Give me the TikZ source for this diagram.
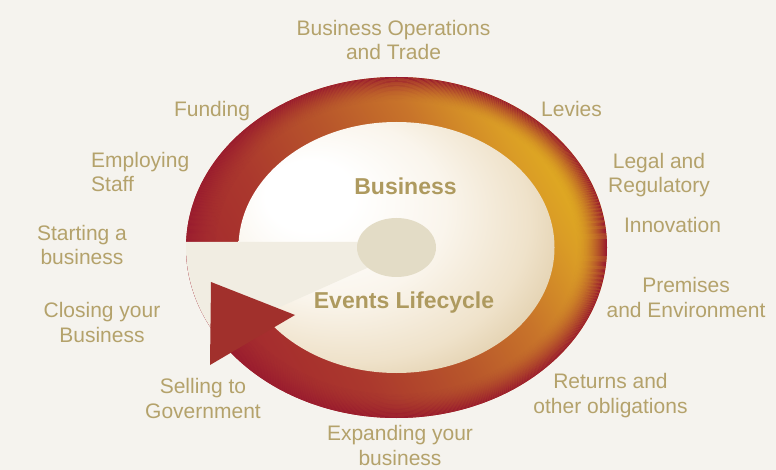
\documentclass[tikz,border=0pt]{standalone}
\usepackage{fontspec}
\setmainfont{Liberation Sans}

% palette
\definecolor{bgcol}{HTML}{F5F3EE}
\definecolor{labelcol}{HTML}{B4A26B}
\definecolor{titlecol}{HTML}{AE9A5F}
\definecolor{wedgecol}{HTML}{F1EDE2}
\definecolor{hubcol}{HTML}{E3DCC6}
\definecolor{arrowcol}{HTML}{A1302C}
\definecolor{ringred}{HTML}{9A1C2E}
\definecolor{ringA}{HTML}{A3282E}
\definecolor{ringB}{HTML}{AB382D}
\definecolor{ringC}{HTML}{B8562B}
\definecolor{ringD}{HTML}{C8742A}
\definecolor{ringE}{HTML}{DA9C26}
\definecolor{ringF}{HTML}{E3B41E}
\definecolor{ballA}{HTML}{FAF5EC}
\definecolor{ballB}{HTML}{EFE2CA}
\definecolor{ballC}{HTML}{DCC7A0}
\definecolor{ballD}{HTML}{C6AA7A}
\definecolor{ballE}{HTML}{AE915D}
\definecolor{ballF}{HTML}{9E824C}

% ring body: red at lower left, gold at upper right
\pgfdeclareverticalshading{ringbase}{100bp}{%
  color(0bp)=(ringA); color(25bp)=(ringA); color(38bp)=(ringB);
  color(50bp)=(ringC); color(60bp)=(ringD); color(69bp)=(ringE);
  color(76bp)=(ringF); color(100bp)=(ringF)}
% glossy centre disc, lit from the upper left
\pgfdeclareradialshading{ballshade}{\pgfpoint{-16bp}{12bp}}{%
  color(0bp)=(white); color(7bp)=(white); color(18bp)=(ballA);
  color(28bp)=(ballB); color(36bp)=(ballC); color(43bp)=(ballD);
  color(47.5bp)=(ballE); color(50bp)=(ballF)}

\begin{document}
\begin{tikzpicture}[x=1pt,y=-1pt,
  lbl/.style={font=\fontsize{21}{24.2}\selectfont, text=labelcol,
    align=center, anchor=base, inner sep=0pt},
  title/.style={font=\fontsize{23}{26}\selectfont\bfseries, text=titlecol,
    anchor=base, inner sep=0pt},
  outerell/.style={x radius=210.5pt, y radius=170.5pt},
  innerell/.style={x radius=158pt, y radius=125.5pt},
  hubell/.style={x radius=39.5pt, y radius=29.5pt}]
\useasboundingbox (0,0) rectangle (776,470);
\fill[bgcol] (0,0) rectangle (776,470);

\coordinate (c) at (396.5,247.5);

% ring
\shade[shading=ringbase, shading angle=-60] (c) ellipse [outerell];
% darkening towards the rim: thin concentric bands of red
\foreach \k in {0,...,29} {
  \pgfmathsetmacro\op{(1-\k/30)^1.8}
  \fill[ringred, opacity=\op, even odd rule]
    (c) ellipse [x radius={(210.5-\k)*1pt}, y radius={(170.5-0.81*\k)*1pt}]
    (c) ellipse [x radius={(209.5-\k)*1pt}, y radius={(169.69-0.81*\k)*1pt}];
}

% inner disc
\shade[shading=ballshade] (c) ellipse [innerell];

% pale gap cut into the ring
\begin{scope}
  \clip (c) ellipse [outerell];
  \fill[wedgecol] (400,242) -- (150,242) -- (150,365.2) -- (400,253.2) -- cycle;
\end{scope}

% hub
\fill[hubcol] (c) ellipse [hubell];

% arrow head
\fill[arrowcol] (211,282) -- (295,315) -- (210,365) -- cycle;

% centre titles
\node[title] (tbusiness) at (405.5,195) {Business};
\node[title] (tevents) at (404,308) {Events Lifecycle};

% surrounding labels (base = baseline of the last line)
\node[lbl] (ops) at (393.5,60) {Business Operations\\and Trade};
\node[lbl] (levies) at (571.5,117) {Levies};
\node[lbl] (legal) at (659,193) {Legal and\\Regulatory};
\node[lbl] (innov) at (672.5,233) {Innovation};
\node[lbl] (premises) at (686,317) {Premises\\and Environment};
\node[lbl] (returns) at (610.5,413) {Returns and\\other obligations};
\node[lbl] (expanding) at (400,465) {Expanding your\\business};
\node[lbl] (selling) at (203,418) {Selling to\\Government};
\node[lbl] (closing) at (102,342) {Closing your\\Business};
\node[lbl] (starting) at (82,265) {Starting a\\business};
\node[lbl, align=left, anchor=base west] (employ) at (91,192) {Employing\\Staff};
\node[lbl] (funding) at (212,117) {Funding};
\end{tikzpicture}
\end{document}
